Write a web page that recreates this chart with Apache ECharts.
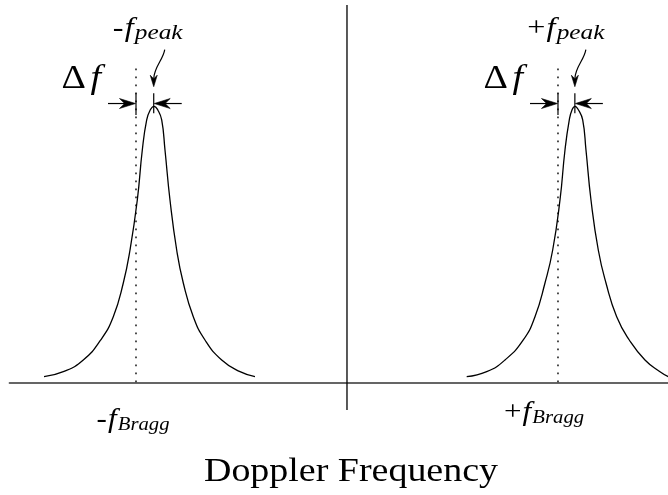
<!DOCTYPE html>
<html>
<head>
<meta charset="utf-8">
<script src="https://cdn.jsdelivr.net/npm/echarts@6/dist/echarts.min.js"></script>
<style>
  html, body { margin: 0; padding: 0; background: #fff; }
  #chart { width: 668px; height: 495px; }
</style>
</head>
<body>
<div id="chart"></div>
<script>
// Doppler spectrum sketch: two first-order Bragg lines, each peak displaced by Δf.
// Frequencies are normalised so that the Bragg lines sit at ±1.

const braggFreq = [-1, 1];
const peakFreq = [-0.916, 1.080];
const signs = ['-', '+'];

// spectral shape around the negative Bragg line
const negPeakX = [-1.436, -1.3445, -1.2498, -1.1673, -1.1076, -1.0602, -1.0284, -0.9938, -0.9701, -0.9493, -0.9327, -0.9147,
                  -0.8967, -0.8782, -0.8626, -0.8389, -0.8071, -0.7758, -0.7284, -0.6730, -0.5938, -0.5071, -0.4360];
const negPeakY = [0.0203, 0.0384, 0.0808, 0.1533, 0.2377, 0.3598, 0.4793, 0.6605, 0.8417, 0.9504, 0.9866, 1.0,
                  0.9866, 0.9504, 0.8417, 0.6605, 0.4793, 0.3598, 0.2377, 0.1533, 0.0808, 0.0384, 0.0203];

// spectral shape around the positive Bragg line
const posPeakX = [0.5673, 0.6621, 0.7488, 0.8355, 0.8910, 0.9384, 0.9749, 1.0095, 1.0332, 1.0536, 1.0664, 1.0806,
                  1.0972, 1.1171, 1.1327, 1.1564, 1.1910, 1.2275, 1.2782, 1.3379, 1.4123, 1.4834, 1.5227];
const posPeakY = [0.0203, 0.0384, 0.0808, 0.1533, 0.2377, 0.3598, 0.4793, 0.6605, 0.8417, 0.9504, 0.9866, 1.0,
                  0.9866, 0.9504, 0.8417, 0.6605, 0.4793, 0.3598, 0.2377, 0.1533, 0.0808, 0.0384, 0.0203];

// zero-frequency divider
const zeroLineY = [-0.1, 1.367];

const axisTitle = 'Doppler Frequency';

// ---- styling / layout ----
const FONT_FAMILY = 'Liberation Serif';
const STRETCH = 1.15;       // horizontal stretch applied to all serif text
const BASE_K = 0.31;        // canvas "middle" to alphabetic baseline, in em
const layout = {
  dottedTop: 1.157,
  braggTick: [0.968, 1.047],
  peakTick: [0.975, 1.047],
  arrowY: 1.010,
  arrowShaft: 28,
  curvedTipY: 1.071,
  peakLabelDx: [-6, -9],
  peakLabelDy: -69,
  braggLabelDx: [-3, -14],
  braggLabelDy: [46, 39],
  deltaRight: -35,
  deltaDy: -13.5
};

const measureCtx = document.createElement('canvas').getContext('2d');
function cssFont(size, italic) {
  return (italic ? 'italic ' : '') + size + 'px "' + FONT_FAMILY + '"';
}
function textWidth(text, size, italic) {
  measureCtx.font = cssFont(size, italic);
  return measureCtx.measureText(text).width;
}
function textStyle(text, size, italic) {
  return {
    text: text, x: 0, y: 0,
    fontSize: size,
    fontFamily: FONT_FAMILY,
    fontStyle: italic ? 'italic' : 'normal',
    fontWeight: 'normal',
    fill: '#000',
    align: 'left',
    verticalAlign: 'middle'
  };
}

// Lay out a sequence of text runs (main symbol + subscript) on a common baseline.
function layoutRuns(runs, anchorX, baseline, align) {
  const ws = runs.map(r => (r.pre || 0) + textWidth(r.text, r.size, r.italic));
  const total = ws.reduce((a, b) => a + b, 0) * STRETCH;
  let x = align === 'center' ? anchorX - total / 2 : align === 'right' ? anchorX - total : anchorX;
  const els = [];
  runs.forEach((r, i) => {
    x += (r.pre || 0) * STRETCH;
    els.push({
      type: 'text',
      x: x,
      y: baseline + (r.dy || 0) - BASE_K * r.size,
      scaleX: STRETCH,
      silent: true,
      style: textStyle(r.text, r.size, r.italic)
    });
    x += (ws[i] - (r.pre || 0)) * STRETCH;
  });
  return els;
}

// Filled "stealth" arrow head with its tip at (tx, ty), pointing along (dx, dy).
function arrowHead(tx, ty, dx, dy, len, wid) {
  const px = -dy, py = dx;
  const bx = tx - dx * len, by = ty - dy * len;
  const nx = tx - dx * len * 0.68, ny = ty - dy * len * 0.68;
  return {
    type: 'polygon',
    silent: true,
    shape: { points: [[tx, ty], [bx + px * wid / 2, by + py * wid / 2], [nx, ny], [bx - px * wid / 2, by - py * wid / 2]] },
    style: { fill: '#000', stroke: '#000', lineWidth: 0.6 }
  };
}

function seg(p, q, extra) {
  return {
    type: 'line', silent: true,
    shape: { x1: p[0], y1: p[1], x2: q[0], y2: q[1] },
    style: Object.assign({ stroke: '#000', lineWidth: 1.3 }, extra || {})
  };
}

// Markers around each Bragg line: dotted reference, Δf bracket, pointer to the peak.
function renderAnnotation(params, api) {
  const fb = api.value(0);
  const fp = api.value(1);
  const base = api.coord([fb, 0]);
  const top = api.coord([fb, layout.dottedTop]);
  const bt0 = api.coord([fb, layout.braggTick[0]]);
  const bt1 = api.coord([fb, layout.braggTick[1]]);
  const pt0 = api.coord([fp, layout.peakTick[0]]);
  const pt1 = api.coord([fp, layout.peakTick[1]]);
  const ay = api.coord([fb, layout.arrowY])[1];
  const bx = base[0];
  const px = pt0[0];
  const tip = api.coord([fp, layout.curvedTipY]);

  const children = [];
  children.push(seg(base, top, { stroke: '#222', lineWidth: 1.6, lineDash: [1.8, 6.2] }));
  children.push(seg(bt0, bt1, { lineWidth: 1.2 }));
  children.push(seg(pt0, pt1, { lineWidth: 1.2 }));
  const L = layout.arrowShaft;
  children.push(seg([bx - L, ay], [bx - 10, ay], { lineWidth: 1.2 }));
  children.push(arrowHead(bx - 0.5, ay, 1, 0, 16, 10));
  children.push(seg([px + L, ay], [px + 10, ay], { lineWidth: 1.2 }));
  children.push(arrowHead(px + 0.5, ay, -1, 0, 16, 10));
  children.push({
    type: 'bezierCurve', silent: true,
    shape: {
      x1: tip[0] + 11, y1: tip[1] - 37,
      cpx1: tip[0] + 9.5, cpy1: tip[1] - 27,
      cpx2: tip[0] + 0.5, cpy2: tip[1] - 20,
      x2: tip[0], y2: tip[1] - 8
    },
    style: { stroke: '#000', lineWidth: 1.2, fill: null }
  });
  children.push(arrowHead(tip[0], tip[1], 0, 1, 11.5, 7));
  return { type: 'group', children: children };
}

const zip = (xs, ys) => xs.map((x, k) => [x, ys[k]]);

const chart = echarts.init(document.getElementById('chart'), null, { renderer: 'canvas' });

chart.setOption({
  animation: false,
  backgroundColor: '#fff',
  textStyle: { fontFamily: FONT_FAMILY },
  grid: { left: 9.4, right: 0.3, top: 1.4, height: 436.1, containLabel: false },
  xAxis: {
    type: 'value', min: -1.6, max: 1.52,
    axisLine: { show: true, onZero: true, lineStyle: { color: '#333', width: 1.5 } },
    axisTick: { show: false }, axisLabel: { show: false }, splitLine: { show: false }
  },
  yAxis: {
    type: 'value', min: -0.2, max: 1.38, show: false,
    splitLine: { show: false }
  },
  series: [
    {
      name: 'negative Bragg peak', type: 'line', data: zip(negPeakX, negPeakY),
      smooth: 0.5, showSymbol: false, silent: true,
      lineStyle: { color: '#000', width: 1.3 }
    },
    {
      name: 'positive Bragg peak', type: 'line', data: zip(posPeakX, posPeakY),
      smooth: 0.5, showSymbol: false, silent: true,
      lineStyle: { color: '#000', width: 1.3 }
    },
    {
      name: 'zero frequency', type: 'line', data: [[0, zeroLineY[0]], [0, zeroLineY[1]]],
      showSymbol: false, silent: true, clip: false,
      lineStyle: { color: '#000', width: 1.3 }
    },
    {
      name: 'annotations', type: 'custom', silent: true, clip: false,
      data: braggFreq.map((fb, k) => [fb, peakFreq[k]]),
      renderItem: renderAnnotation
    }
  ]
});

// Text labels, placed through the grid's own coordinate conversion.
const toPx = v => chart.convertToPixel({ gridIndex: 0 }, v);
const labels = [];
braggFreq.forEach((fb, i) => {
  const fp = peakFreq[i];
  const bx = toPx([fb, 0])[0];
  const axisY = toPx([fb, 0])[1];
  const px = toPx([fp, 0])[0];
  const peakTopY = toPx([fp, 1])[1];
  const ay = toPx([fb, layout.arrowY])[1];

  labels.push(...layoutRuns([
    { text: signs[i], size: 28 },
    { text: 'f', size: 28, italic: true, pre: 1 },
    { text: 'peak', size: 22, italic: true, dy: 3, pre: 1 }
  ], px + layout.peakLabelDx[i], peakTopY + layout.peakLabelDy, 'center'));

  labels.push(...layoutRuns([
    { text: 'Δ', size: 33 },
    { text: 'f', size: 33, italic: true, pre: 4 }
  ], bx + layout.deltaRight, ay + layout.deltaDy, 'right'));

  labels.push(...layoutRuns([
    { text: signs[i], size: 27 },
    { text: 'f', size: 27, italic: true, pre: 1 },
    { text: 'Bragg', size: 18, italic: true, dy: 3, pre: 1 }
  ], bx + layout.braggLabelDx[i], axisY + layout.braggLabelDy[i], 'center'));
});

const titleSize = 33;
labels.push(...layoutRuns([{ text: axisTitle, size: titleSize }], toPx([0, 0])[0] + 4, 483, 'center'));

chart.setOption({ graphic: labels });
</script>
</body>
</html>
